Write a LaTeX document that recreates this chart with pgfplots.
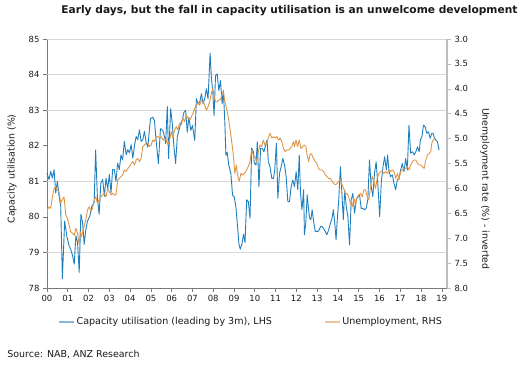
\documentclass[border=0pt]{standalone}
\usepackage{pgfplots}
\pgfplotsset{compat=1.18}
\usepackage{fontspec}
\setmainfont{DejaVu Sans}
\definecolor{cublue}{RGB}{31,127,190}
\definecolor{unorange}{RGB}{222,150,70}
\definecolor{gridc}{RGB}{215,215,215}
\definecolor{axc}{RGB}{120,120,120}
\definecolor{axr}{RGB}{190,190,190}
\definecolor{txt}{RGB}{25,25,25}

\begin{document}
\begin{tikzpicture}[font=\fontsize{8.5}{10}\selectfont]
\path[use as bounding box] (-47bp,-79bp) rectangle (477bp,288bp);
\begin{axis}[
  at={(0,0)}, anchor=south west,
  scale only axis, width=400bp, height=249bp,
  xmin=0, xmax=19.25, ymin=78, ymax=85,
  xtick={0,...,19},
  xticklabels={00,01,02,03,04,05,06,07,08,09,10,11,12,13,14,15,16,17,18,19},
  ytick={78,...,85},
  axis x line*=bottom, axis y line*=left,
  x axis line style={axc, line width=0.8pt},
  y axis line style={axc, line width=0.8pt},
  tick align=outside, major tick length=4bp,
  every tick/.style={axc, line width=0.6pt},
  tick label style={txt, font=\fontsize{8.5}{10}\selectfont},
  /pgf/number format/assume math mode=true,
  extra y ticks={79,81,83,84,85}, extra y tick labels={},
  extra y tick style={grid=major, major grid style={gridc, line width=0.6pt}, major tick length=0pt},
  every axis y label/.style={at={(axis description cs:-0.0875,0.478)}, anchor=center, rotate=90},
  ylabel={Capacity utilisation (\%)},
  label style={txt, font=\fontsize{9.4}{11}\selectfont},
  legend columns=2,
  legend style={draw=none, fill=none, at={(axis description cs:0.0275,-0.1365)}, anchor=west,
    inner sep=0pt, font=\fontsize{9.6}{11}\selectfont, text=txt,
    /tikz/every even column/.append style={column sep=50bp}},
  legend image code/.code={\draw[#1, line width=1.4pt, opacity=0.55] (0bp,0bp) -- (15bp,0bp);},
  clip=false,
]
\addplot[cublue, line width=0.9pt, line join=round] coordinates {
(0.00,81.23) (0.10,81.05) (0.18,81.28) (0.26,81.09) (0.34,81.33) (0.42,80.67) (0.50,81.00) (0.58,80.58)
(0.66,80.30) (0.74,78.26) (0.85,79.88) (0.95,79.47) (1.06,79.19) (1.14,79.09) (1.23,78.91) (1.31,78.67)
(1.39,79.47) (1.47,79.28) (1.55,78.44) (1.63,80.07) (1.71,79.84) (1.79,79.23) (1.87,79.65) (1.95,79.88)
(2.06,80.02) (2.16,80.30) (2.27,80.40) (2.34,81.88) (2.43,80.49) (2.51,80.07) (2.59,80.95) (2.68,81.05)
(2.76,80.58) (2.84,81.09) (2.92,80.77) (3.00,81.19) (3.08,80.67) (3.16,81.33) (3.24,81.33) (3.32,81.00)
(3.40,81.51) (3.48,81.33) (3.56,81.74) (3.64,81.60) (3.72,82.12) (3.81,81.75) (3.89,81.89) (3.97,81.80)
(4.05,82.03) (4.13,81.65) (4.21,82.00) (4.29,82.26) (4.37,82.17) (4.45,82.45) (4.53,82.12) (4.61,82.17)
(4.69,82.40) (4.77,82.10) (4.85,81.96) (4.98,82.76) (5.09,82.80) (5.17,82.71) (5.25,82.15) (5.36,81.50)
(5.46,82.48) (5.58,82.43) (5.66,82.24) (5.71,82.06) (5.79,83.10) (5.85,81.64) (5.95,83.04) (6.03,82.62)
(6.11,81.96) (6.19,81.50) (6.27,82.24) (6.35,82.43) (6.43,82.62) (6.51,82.71) (6.59,82.94) (6.67,82.99)
(6.75,82.38) (6.83,82.80) (6.92,82.43) (7.00,82.57) (7.11,82.15) (7.19,83.32) (7.27,83.18) (7.35,83.22)
(7.43,83.46) (7.51,83.18) (7.59,83.32) (7.67,83.60) (7.75,83.32) (7.85,84.60) (7.91,83.93) (7.98,83.50)
(8.04,82.85) (8.11,83.97) (8.19,84.02) (8.27,83.55) (8.35,83.83) (8.43,83.18) (8.49,83.55) (8.56,82.62)
(8.61,81.73) (8.67,81.82) (8.75,81.45) (8.85,81.21) (8.93,80.61) (9.01,80.56) (9.09,80.28) (9.17,79.72)
(9.24,79.23) (9.30,79.09) (9.38,79.23) (9.46,79.51) (9.53,79.28) (9.61,80.48) (9.69,80.43) (9.77,79.96)
(9.85,81.93) (9.93,81.83) (9.98,81.50) (10.06,81.46) (10.12,82.11) (10.20,80.85) (10.28,81.93) (10.36,81.93)
(10.44,81.83) (10.52,82.02) (10.59,82.16) (10.65,81.55) (10.73,81.41) (10.82,81.08) (10.90,81.08) (10.96,81.32)
(11.04,82.07) (11.11,80.52) (11.19,81.22) (11.27,81.41) (11.35,81.64) (11.43,81.46) (11.51,81.13) (11.59,80.43)
(11.67,80.43) (11.75,80.85) (11.83,81.04) (11.91,80.85) (11.99,81.27) (12.07,80.76) (12.14,81.74) (12.20,80.66)
(12.27,80.20) (12.35,80.76) (12.39,79.50) (12.46,79.87) (12.52,80.62) (12.59,80.20) (12.64,79.96) (12.70,79.92)
(12.76,80.20) (12.83,79.87) (12.91,79.59) (12.97,79.59) (13.04,79.59) (13.10,79.64) (13.17,79.73) (13.23,79.73)
(13.31,79.68) (13.39,79.59) (13.47,79.50) (13.56,79.64) (13.64,79.82) (13.72,79.96) (13.78,80.20) (13.85,79.82)
(13.91,79.36) (13.97,79.92) (14.04,80.48) (14.12,81.41) (14.20,80.57) (14.26,79.92) (14.33,80.76) (14.40,80.30)
(14.48,80.00) (14.56,79.21) (14.64,80.48) (14.72,80.66) (14.80,80.10) (14.88,80.48) (14.96,80.57) (15.04,80.62)
(15.12,80.24) (15.20,80.24) (15.28,80.20) (15.36,80.24) (15.44,80.48) (15.52,81.60) (15.60,80.85) (15.68,80.57)
(15.76,81.22) (15.84,81.55) (15.93,80.85) (16.01,80.01) (16.09,80.99) (16.17,81.41) (16.25,81.69) (16.33,81.32)
(16.39,81.74) (16.46,81.27) (16.54,81.13) (16.62,81.18) (16.70,80.94) (16.78,80.76) (16.86,81.04) (16.94,81.08)
(17.02,81.32) (17.10,81.50) (17.18,81.27) (17.26,81.64) (17.34,81.32) (17.42,82.58) (17.50,81.79) (17.59,81.83)
(17.67,81.74) (17.75,81.83) (17.83,81.97) (17.91,81.83) (17.97,82.16) (18.04,82.25) (18.12,82.58) (18.20,82.53)
(18.28,82.35) (18.36,82.39) (18.44,82.21) (18.52,82.35) (18.58,82.35) (18.65,82.21) (18.71,82.16) (18.79,82.11)
(18.87,81.88)
};
\addlegendentry{Capacity utilisation (leading by 3m), LHS}
\addlegendimage{unorange}
\addlegendentry{Unemployment, RHS}
\node[font=\bfseries\fontsize{10.7}{12}\selectfont, text=txt] at (axis description cs:0.606,1.1124) {Early days, but the fall in capacity utilisation is an unwelcome development};
\node[anchor=west, text=txt, font=\fontsize{9.5}{11}\selectfont] at (axis description cs:-0.108,-0.265) {Source: NAB, ANZ Research};
\end{axis}
\begin{axis}[
  at={(0,0)}, anchor=south west,
  scale only axis, width=400bp, height=249bp,
  xmin=0, xmax=19.25, ymin=3, ymax=8, y dir=reverse,
  hide x axis,
  axis y line*=right,
  y axis line style={axr, line width=1.2pt},
  ytick={3,3.5,...,8},
  tick align=outside, major tick length=4bp,
  every tick/.style={axr, line width=0.6pt},
  tick label style={txt, font=\fontsize{8.5}{10}\selectfont},
  /pgf/number format/assume math mode=true,
  yticklabel style={/pgf/number format/.cd, fixed, fixed zerofill, precision=1},
  every axis y label/.style={at={(axis description cs:1.095,0.398)}, anchor=center, rotate=-90},
  ylabel={Unemployment rate (\%) - inverted},
  label style={txt, font=\fontsize{9.4}{10}\selectfont},
]
\addplot[unorange, line width=0.9pt, line join=round] coordinates {
(0.00,6.57) (0.02,6.43) (0.10,6.37) (0.18,6.40) (0.26,6.17) (0.34,6.00) (0.42,5.97) (0.50,6.03) (0.58,6.07)
(0.66,6.30) (0.74,6.23) (0.82,6.17) (0.90,6.53) (0.98,6.60) (1.06,6.73) (1.14,6.87) (1.23,6.90) (1.31,6.94)
(1.39,6.80) (1.47,6.90) (1.55,7.14) (1.60,6.87) (1.66,6.97) (1.76,6.80) (1.87,6.63) (1.95,6.43) (2.03,6.37)
(2.11,6.47) (2.19,6.40) (2.27,6.23) (2.35,6.17) (2.43,6.30) (2.51,6.23) (2.59,6.17) (2.68,6.13) (2.76,6.10)
(2.84,6.17) (2.92,6.00) (3.00,6.07) (3.08,6.13) (3.16,6.10) (3.24,6.13) (3.32,6.13) (3.40,5.83) (3.48,5.80)
(3.56,5.76) (3.64,5.73) (3.72,5.63) (3.81,5.66) (3.89,5.60) (3.97,5.56) (4.05,5.50) (4.13,5.46) (4.21,5.53)
(4.29,5.43) (4.37,5.40) (4.45,5.46) (4.53,5.40) (4.61,5.16) (4.69,5.13) (4.77,5.09) (4.85,5.09) (4.93,5.16)
(5.01,5.13) (5.09,5.03) (5.17,5.06) (5.25,4.96) (5.33,4.96) (5.41,4.99) (5.50,4.96) (5.58,5.03) (5.66,4.99)
(5.74,5.03) (5.82,5.13) (5.90,5.03) (5.98,4.86) (6.06,4.99) (6.14,4.83) (6.22,4.76) (6.30,4.83) (6.38,4.69)
(6.46,4.73) (6.54,4.59) (6.62,4.66) (6.70,4.53) (6.79,4.59) (6.87,4.63) (6.95,4.56) (7.03,4.49) (7.11,4.39)
(7.19,4.33) (7.27,4.29) (7.35,4.33) (7.43,4.22) (7.51,4.26) (7.59,4.33) (7.67,4.43) (7.75,4.36) (7.83,4.26)
(7.91,4.09) (7.98,3.99) (8.04,4.16) (8.11,4.26) (8.19,4.26) (8.27,4.22) (8.35,4.22) (8.43,4.09) (8.49,4.06)
(8.56,4.26) (8.64,4.39) (8.72,4.56) (8.80,4.79) (8.88,5.03) (8.96,5.30) (9.04,5.70) (9.11,5.53) (9.17,5.73)
(9.25,5.86) (9.33,5.70) (9.41,5.73) (9.49,5.70) (9.57,5.66) (9.69,5.56) (9.77,5.46) (9.85,5.23) (9.93,5.33)
(10.01,5.36) (10.09,5.46) (10.17,5.26) (10.25,5.13) (10.33,5.16) (10.41,5.03) (10.49,5.13) (10.57,5.10)
(10.65,4.99) (10.73,4.89) (10.82,4.99) (10.90,4.96) (10.98,4.99) (11.06,4.96) (11.14,5.03) (11.22,4.99)
(11.30,5.06) (11.38,5.20) (11.46,5.26) (11.54,5.23) (11.62,5.23) (11.70,5.20) (11.78,5.16) (11.86,5.06)
(11.91,5.16) (11.98,5.03) (12.06,5.16) (12.14,5.03) (12.22,5.20) (12.30,5.16) (12.38,5.13) (12.46,5.16)
(12.52,5.33) (12.59,5.46) (12.67,5.30) (12.75,5.33) (12.83,5.40) (12.91,5.46) (12.99,5.50) (13.07,5.60)
(13.15,5.63) (13.23,5.63) (13.31,5.66) (13.39,5.73) (13.47,5.76) (13.56,5.80) (13.64,5.80) (13.72,5.86)
(13.80,5.90) (13.88,5.93) (13.96,5.90) (14.04,5.86) (14.12,5.83) (14.20,5.93) (14.28,6.00) (14.36,6.13)
(14.44,6.10) (14.52,6.17) (14.60,6.30) (14.69,6.37) (14.77,6.20) (14.85,6.33) (14.93,6.17) (15.01,6.13)
(15.09,6.10) (15.17,6.17) (15.25,6.03) (15.33,6.03) (15.41,6.17) (15.49,6.23) (15.57,5.97) (15.65,5.76)
(15.73,5.86) (15.81,6.00) (15.89,5.80) (15.98,5.70) (16.06,5.66) (16.14,5.66) (16.22,5.70) (16.30,5.66)
(16.38,5.70) (16.46,5.63) (16.54,5.66) (16.62,5.63) (16.70,5.66) (16.78,5.80) (16.86,5.70) (16.94,5.83)
(17.02,5.66) (17.10,5.63) (17.18,5.60) (17.26,5.60) (17.34,5.56) (17.42,5.63) (17.50,5.53) (17.59,5.46)
(17.67,5.43) (17.75,5.43) (17.83,5.50) (17.91,5.53) (17.99,5.53) (18.07,5.56) (18.15,5.60) (18.23,5.43)
(18.31,5.33) (18.39,5.30) (18.47,5.26) (18.52,5.09) (18.58,5.03) (18.65,4.99)
};
\end{axis}
\end{tikzpicture}
\end{document}
